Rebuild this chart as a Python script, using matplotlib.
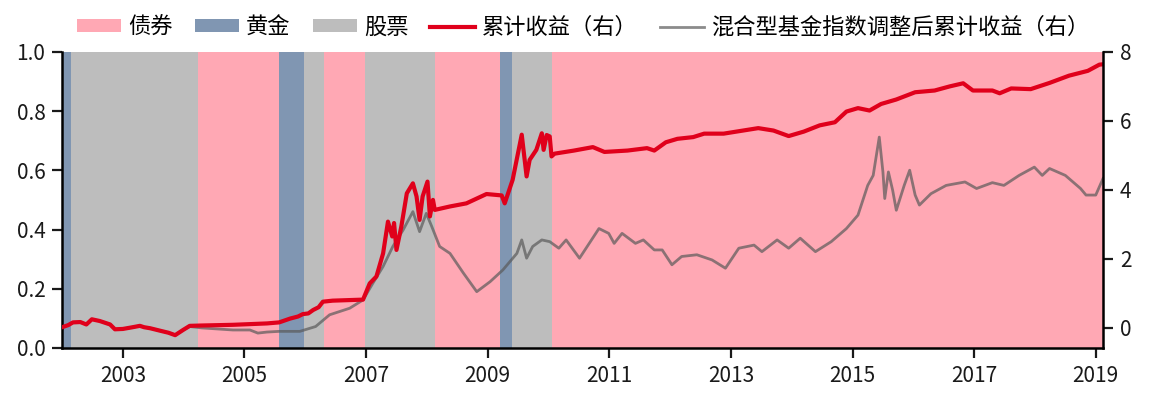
import matplotlib
matplotlib.use("Agg")
import matplotlib.pyplot as plt
from matplotlib.patches import Patch
from matplotlib.lines import Line2D

plt.rcParams['font.family'] = ['Noto Sans CJK SC', 'DejaVu Sans']

# regime shading: start (decimal year) and asset held
regime_start = [2002.00, 2002.15, 2004.23, 2005.57, 2005.98, 2006.31,
                2006.98, 2008.13, 2009.21, 2009.40, 2010.05]
regime_asset = ['黄金', '股票', '债券', '黄金', '股票', '债券',
                '股票', '债券', '黄金', '股票', '债券']
x_end = 2019.12

asset_colors = {'债券': '#FFA8B4', '黄金': '#8096B2', '股票': '#BDBDBD'}

# strategy cumulative return (right axis)
red_t = [2002.00, 2002.10, 2002.18, 2002.30, 2002.40, 2002.49, 2002.62, 2002.79,
         2002.87, 2003.00, 2003.16, 2003.28, 2003.35, 2003.45, 2003.61, 2003.75,
         2003.86, 2003.99, 2004.10, 2004.30, 2004.81, 2005.37, 2005.57, 2005.75,
         2005.88, 2005.96, 2006.05, 2006.13, 2006.22, 2006.29, 2006.45, 2006.95,
         2007.06, 2007.17, 2007.28, 2007.36, 2007.43, 2007.46, 2007.50, 2007.58,
         2007.67, 2007.77, 2007.83, 2007.88, 2007.93, 2008.01, 2008.05, 2008.10,
         2008.13, 2008.38, 2008.65, 2008.98, 2009.23, 2009.28, 2009.41, 2009.56,
         2009.64, 2009.69, 2009.80, 2009.89, 2009.92, 2009.97, 2010.02, 2010.05,
         2010.10, 2010.42, 2010.73, 2010.92, 2011.30, 2011.62, 2011.74, 2011.93,
         2012.12, 2012.38, 2012.56, 2012.88, 2013.20, 2013.45, 2013.70, 2013.95,
         2014.20, 2014.46, 2014.71, 2014.90, 2015.09, 2015.28, 2015.47, 2015.72,
         2016.03, 2016.35, 2016.60, 2016.82, 2016.98, 2017.30, 2017.42, 2017.61,
         2017.93, 2018.24, 2018.56, 2018.87, 2019.06, 2019.12]
red_v = [0.02, 0.08, 0.16, 0.17, 0.10, 0.25, 0.20, 0.10,
         -0.04, -0.03, 0.02, 0.06, 0.02, -0.01, -0.08, -0.14,
         -0.21, -0.06, 0.06, 0.07, 0.09, 0.13, 0.16, 0.27,
         0.33, 0.40, 0.42, 0.52, 0.60, 0.76, 0.79, 0.82,
         1.29, 1.49, 2.16, 3.08, 2.65, 3.04, 2.26, 2.94,
         3.90, 4.19, 3.81, 3.13, 3.81, 4.24, 3.23, 3.71,
         3.42, 3.52, 3.61, 3.88, 3.84, 3.61, 4.29, 5.60,
         4.39, 4.87, 5.16, 5.64, 5.16, 5.59, 5.55, 4.97,
         5.05, 5.14, 5.24, 5.10, 5.14, 5.21, 5.14, 5.38,
         5.48, 5.53, 5.63, 5.63, 5.72, 5.79, 5.72, 5.56,
         5.69, 5.87, 5.96, 6.27, 6.37, 6.30, 6.49, 6.62,
         6.83, 6.88, 7.00, 7.09, 6.88, 6.88, 6.80, 6.94,
         6.92, 7.10, 7.31, 7.45, 7.63, 7.64]

# mixed fund index, adjusted cumulative return (right axis)
fund_t = [2002.00, 2002.10, 2002.18, 2002.30, 2002.40, 2002.49, 2002.62, 2002.79,
          2002.87, 2003.00, 2003.16, 2003.28, 2003.35, 2003.45, 2003.61, 2003.75,
          2003.86, 2003.99, 2004.10, 2004.30, 2004.81, 2005.09, 2005.22, 2005.37,
          2005.57, 2005.91, 2006.17, 2006.40, 2006.73, 2006.95, 2007.11, 2007.28,
          2007.44, 2007.61, 2007.77, 2007.88, 2007.99, 2008.08, 2008.21, 2008.38,
          2008.60, 2008.82, 2009.04, 2009.25, 2009.48, 2009.56, 2009.64, 2009.74,
          2009.89, 2010.02, 2010.17, 2010.29, 2010.51, 2010.67, 2010.83, 2010.99,
          2011.08, 2011.21, 2011.43, 2011.56, 2011.74, 2011.87, 2012.03, 2012.19,
          2012.44, 2012.69, 2012.91, 2013.13, 2013.38, 2013.51, 2013.76, 2013.95,
          2014.14, 2014.39, 2014.65, 2014.90, 2015.09, 2015.25, 2015.34, 2015.44,
          2015.50, 2015.53, 2015.59, 2015.66, 2015.72, 2015.85, 2015.94, 2016.03,
          2016.10, 2016.29, 2016.54, 2016.85, 2017.04, 2017.30, 2017.49, 2017.74,
          2017.99, 2018.12, 2018.24, 2018.50, 2018.75, 2018.84, 2019.00, 2019.12]
fund_v = [0.02, 0.08, 0.16, 0.17, 0.10, 0.25, 0.20, 0.10,
          -0.04, -0.03, 0.02, 0.06, 0.02, -0.01, -0.08, -0.14,
          -0.21, -0.06, 0.04, 0.00, -0.06, -0.06, -0.15, -0.12,
          -0.10, -0.10, 0.04, 0.38, 0.57, 0.81, 1.29, 1.78,
          2.36, 2.84, 3.37, 2.79, 3.32, 2.94, 2.36, 2.16,
          1.59, 1.05, 1.34, 1.68, 2.16, 2.55, 2.02, 2.36,
          2.55, 2.50, 2.31, 2.55, 2.02, 2.45, 2.88, 2.74,
          2.45, 2.74, 2.45, 2.55, 2.26, 2.26, 1.83, 2.07,
          2.12, 1.97, 1.73, 2.31, 2.40, 2.21, 2.55, 2.31,
          2.60, 2.21, 2.50, 2.88, 3.27, 4.13, 4.42, 5.53,
          4.52, 3.75, 4.52, 3.99, 3.41, 4.13, 4.57, 3.85,
          3.56, 3.89, 4.13, 4.23, 4.04, 4.21, 4.13, 4.42,
          4.66, 4.42, 4.62, 4.42, 4.04, 3.85, 3.85, 4.33]

year_ticks = [2003, 2005, 2007, 2009, 2011, 2013, 2015, 2017, 2019]
red_color = '#E0001B'
fund_color = '#5a5a5a'

fig = plt.figure(figsize=(11.49, 3.99), dpi=100)
ax = fig.add_axes([0.054, 0.128, 0.906, 0.742])

ends = regime_start[1:] + [x_end]
for s, e, a in zip(regime_start, ends, regime_asset):
    ax.axvspan(s, e, color=asset_colors[a], lw=0)

ax.set_xlim(regime_start[0], x_end)
ax.set_ylim(0, 1)
ax.set_yticks([0, 0.2, 0.4, 0.6, 0.8, 1.0])
ax.set_yticklabels(['%.1f' % v for v in [0, 0.2, 0.4, 0.6, 0.8, 1.0]])
ax.set_xticks(year_ticks)
ax.set_xticklabels([str(y) for y in year_ticks])

ax2 = ax.twinx()
ax2.plot(fund_t, fund_v, color=fund_color, lw=2.0, alpha=0.7)
ax2.plot(red_t, red_v, color=red_color, lw=3.0)
ax2.set_ylim(-0.58, 8)
ax2.set_yticks([0, 2, 4, 6, 8])

for a in (ax, ax2):
    a.spines['top'].set_visible(False)
    for sp in a.spines.values():
        sp.set_linewidth(1.8)
    a.tick_params(labelsize=15, width=1.6, length=7, pad=5, colors='#1a1a1a')
ax.spines['right'].set_visible(False)
ax2.spines['left'].set_visible(False)
ax2.spines['bottom'].set_visible(False)

handles = [Patch(color=asset_colors['债券'], lw=0),
           Patch(color=asset_colors['黄金'], lw=0),
           Patch(color=asset_colors['股票'], lw=0),
           Line2D([], [], color=red_color, lw=3.0),
           Line2D([], [], color=fund_color, lw=2.0, alpha=0.7)]
labels = ['债券', '黄金', '股票', '累计收益（右）', '混合型基金指数调整后累计收益（右）']
fig.legend(handles, labels, ncol=5, loc='center left',
           bbox_to_anchor=(0.067, 0.932), frameon=False, fontsize=16,
           handlelength=2.0, handleheight=0.5, handletextpad=0.3,
           columnspacing=1.0, borderpad=0, borderaxespad=0)

fig.savefig('out.png', dpi=100)
